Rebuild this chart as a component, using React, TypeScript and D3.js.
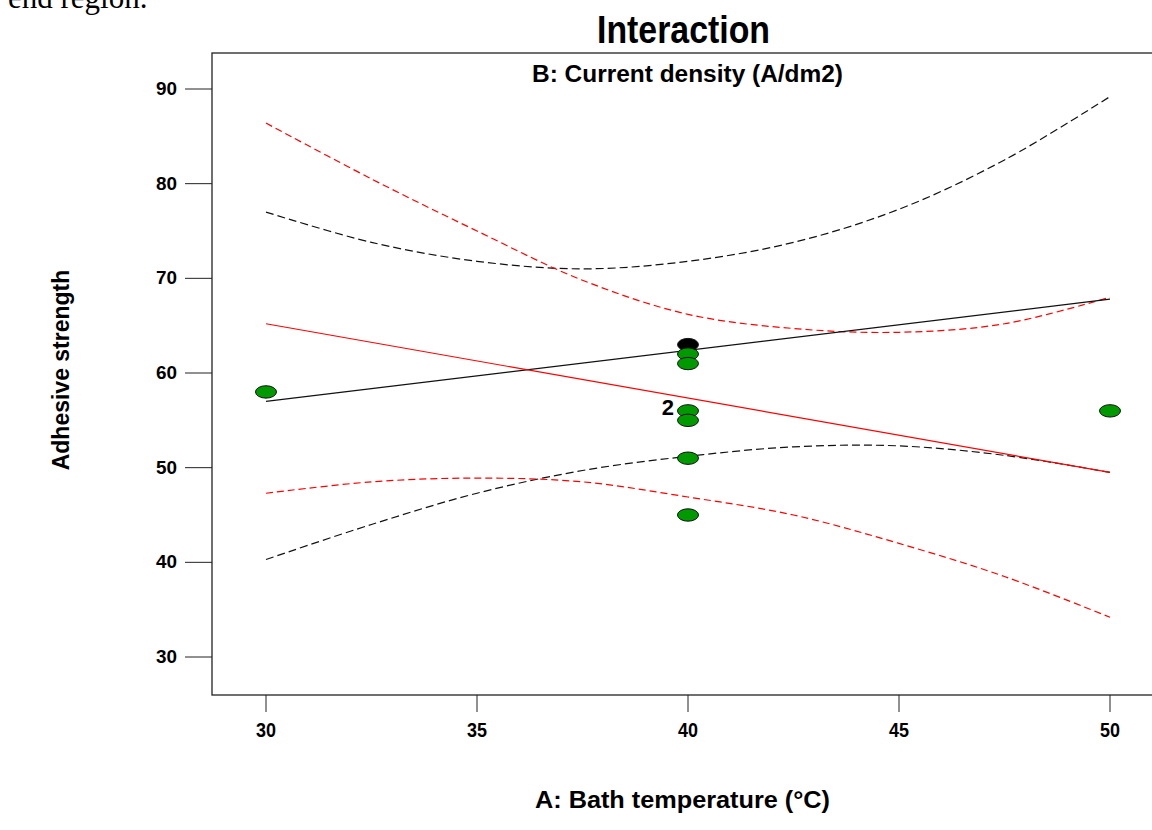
import { useEffect, useRef } from "react";
import * as d3 from "d3";

const curveTemp = [30, 32.5, 35, 37.5, 40, 42.5, 45, 47.5, 50];

// B- (black) and B+ (red) fitted lines, read at 30 and 50
const lineTemp = [30, 50];
const lowFit = [57.0, 67.8];
const highFit = [65.2, 49.5];

// confidence bands read at curveTemp
const lowUpper = [77.0, 73.8, 71.8, 71.0, 71.8, 73.8, 77.3, 82.5, 89.2];
const lowLower = [40.3, 44.0, 47.3, 49.7, 51.2, 52.2, 52.3, 51.3, 49.5];
const highUpper = [86.4, 80.5, 75.0, 69.8, 66.2, 64.7, 64.3, 65.2, 68.0];
const highLower = [47.3, 48.5, 48.9, 48.5, 46.9, 45.0, 42.0, 38.5, 34.2];

// design points
const pointTemp = [30, 40, 40, 40, 40, 40, 40, 40, 50];
const pointStrength = [58, 63, 62, 61, 56, 55, 51, 45, 56];
const pointGroup = ["center", "low", "center", "center", "center", "center", "center", "center", "center"];
const pointCount = [1, 1, 1, 1, 2, 1, 1, 1, 1];

const xTicks = [30, 35, 40, 45, 50];
const yTicks = [30, 40, 50, 60, 70, 80, 90];

export default function App() {
  const ref = useRef<SVGSVGElement>(null);

  useEffect(() => {
    const width = 1152;
    const height = 830;
    const svg = d3.select(ref.current);
    svg.selectAll("*").remove();
    svg.attr("width", width).attr("height", height).attr("viewBox", `0 0 ${width} ${height}`);

    const font = "Arial, 'Liberation Sans', sans-serif";
    const x = d3.scaleLinear().domain([30, 50]).range([266, 1110]);
    const y = d3.scaleLinear().domain([30, 90]).range([657, 89]);

    // right side of the frame runs past the page edge
    const frame = { left: 212, top: 53, right: 1164, bottom: 695 };

    // leftover text from the page above the figure
    svg
      .append("text")
      .attr("x", 8)
      .attr("y", 8)
      .style("font-family", "'Liberation Serif', 'Times New Roman', serif")
      .style("font-size", "31px")
      .text("end region.");

    svg
      .append("rect")
      .attr("x", frame.left)
      .attr("y", frame.top)
      .attr("width", frame.right - frame.left)
      .attr("height", frame.bottom - frame.top)
      .attr("fill", "none")
      .attr("stroke", "#222")
      .attr("stroke-width", 1.3);

    // ticks
    svg
      .append("g")
      .selectAll("line")
      .data(yTicks)
      .join("line")
      .attr("x1", frame.left - 27)
      .attr("x2", frame.left)
      .attr("y1", (d) => y(d))
      .attr("y2", (d) => y(d))
      .attr("stroke", "#222");

    svg
      .append("g")
      .selectAll("text")
      .data(yTicks)
      .join("text")
      .attr("x", 177)
      .attr("y", (d) => y(d) + 6)
      .attr("text-anchor", "end")
      .attr("textLength", 21)
      .attr("lengthAdjust", "spacingAndGlyphs")
      .style("font-family", font)
      .style("font-weight", "bold")
      .style("font-size", "18px")
      .text((d) => d);

    svg
      .append("g")
      .selectAll("line")
      .data(xTicks)
      .join("line")
      .attr("x1", (d) => x(d))
      .attr("x2", (d) => x(d))
      .attr("y1", frame.bottom)
      .attr("y2", frame.bottom + 17)
      .attr("stroke", "#222");

    svg
      .append("g")
      .selectAll("text")
      .data(xTicks)
      .join("text")
      .attr("x", (d) => x(d) - 10)
      .attr("y", 737)
      .attr("textLength", 20)
      .attr("lengthAdjust", "spacingAndGlyphs")
      .style("font-family", font)
      .style("font-weight", "bold")
      .style("font-size", "20px")
      .text((d) => d);

    // titles
    svg
      .append("text")
      .attr("x", 597)
      .attr("y", 43)
      .attr("textLength", 173)
      .attr("lengthAdjust", "spacingAndGlyphs")
      .style("font-family", font)
      .style("font-weight", "bold")
      .style("font-size", "38px")
      .text("Interaction");

    svg
      .append("text")
      .attr("x", 532)
      .attr("y", 82)
      .attr("textLength", 311)
      .attr("lengthAdjust", "spacingAndGlyphs")
      .style("font-family", font)
      .style("font-weight", "bold")
      .style("font-size", "23px")
      .text("B: Current density (A/dm2)");

    svg
      .append("text")
      .attr("x", 535)
      .attr("y", 808)
      .attr("textLength", 295)
      .attr("lengthAdjust", "spacingAndGlyphs")
      .style("font-family", font)
      .style("font-weight", "bold")
      .style("font-size", "23px")
      .text("A: Bath temperature (°C)");

    svg
      .append("text")
      .attr("transform", "translate(69,370) rotate(-90)")
      .attr("text-anchor", "middle")
      .style("font-family", font)
      .style("font-weight", "bold")
      .style("font-size", "23px")
      .text("Adhesive strength");

    // curves
    const band = d3
      .line<number>()
      .x((_, i) => x(curveTemp[i]))
      .y((d) => y(d))
      .curve(d3.curveCatmullRom);

    const straight = d3
      .line<number>()
      .x((_, i) => x(lineTemp[i]))
      .y((d) => y(d));

    const curves = [
      { path: band(lowUpper), color: "#111", dash: "8,4" },
      { path: band(lowLower), color: "#111", dash: "8,4" },
      { path: band(highUpper), color: "#ff0000", dash: "7,4" },
      { path: band(highLower), color: "#ff0000", dash: "7,4" },
      { path: straight(lowFit), color: "#111", dash: null },
      { path: straight(highFit), color: "#ff0000", dash: null },
    ];

    svg
      .append("g")
      .selectAll("path")
      .data(curves)
      .join("path")
      .attr("d", (d) => d.path)
      .attr("fill", "none")
      .attr("stroke", (d) => d.color)
      .attr("stroke-width", 1.2)
      .attr("stroke-dasharray", (d) => d.dash);

    // points
    const colors: Record<string, string> = { center: "#009900", low: "#000000" };
    const idx = d3.range(pointTemp.length);

    svg
      .append("g")
      .selectAll("ellipse")
      .data(idx)
      .join("ellipse")
      .attr("cx", (i) => x(pointTemp[i]))
      .attr("cy", (i) => y(pointStrength[i]))
      .attr("rx", 10.5)
      .attr("ry", 6.2)
      .attr("fill", (i) => colors[pointGroup[i]])
      .attr("stroke", "#111")
      .attr("stroke-width", 1);

    // replicate counts next to stacked points
    svg
      .append("g")
      .selectAll("text")
      .data(idx.filter((i) => pointCount[i] > 1))
      .join("text")
      .attr("x", (i) => x(pointTemp[i]) - 14)
      .attr("y", (i) => y(pointStrength[i]) + 4)
      .attr("text-anchor", "end")
      .style("font-family", font)
      .style("font-weight", "bold")
      .style("font-size", "22px")
      .text((i) => pointCount[i]);
  }, []);

  return (
    <svg
      ref={ref}
      style={{ position: "absolute", left: 0, top: 0, background: "#fff" }}
      role="img"
      aria-label="Interaction plot of adhesive strength"
    />
  );
}
